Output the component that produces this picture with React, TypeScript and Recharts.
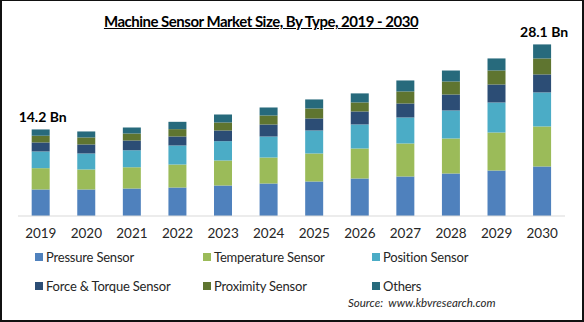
import React from 'react';
import { BarChart, Bar, XAxis, YAxis, LabelList, Legend } from 'recharts';

const years = ['2019', '2020', '2021', '2022', '2023', '2024', '2025', '2026', '2027', '2028', '2029', '2030'];
const pressure = [4.35, 4.35, 4.51, 4.67, 5.0, 5.33, 5.66, 6.15, 6.48, 6.97, 7.46, 8.12];
const temperature = [3.49, 3.28, 3.49, 3.77, 4.1, 4.26, 4.59, 4.92, 5.41, 5.74, 6.23, 6.56];
const positionSensor = [2.74, 2.62, 2.79, 3.12, 3.17, 3.44, 3.77, 3.94, 4.26, 4.59, 4.92, 5.58];
const forceTorque = [1.48, 1.48, 1.59, 1.48, 1.75, 1.97, 1.97, 2.13, 2.3, 2.62, 2.95, 2.95];
const proximity = [1.1, 1.15, 1.15, 1.2, 1.31, 1.48, 1.64, 1.48, 1.97, 2.13, 2.3, 2.62];
const others = [1.03, 0.98, 0.98, 1.2, 1.31, 1.31, 1.48, 1.48, 1.8, 1.8, 1.97, 2.3];
const totalLabels = ['14.2 Bn', '', '', '', '', '', '', '', '', '', '', '28.1 Bn'];

const seriesNames = ['Pressure Sensor', 'Temperature Sensor', 'Position Sensor', 'Force & Torque Sensor', 'Proximity Sensor', 'Others'];
const seriesKeys = ['pressure', 'temperature', 'position', 'force', 'proximity', 'others'];
const seriesColors = ['#4F81BD', '#9BBB59', '#4BACC6', '#2C4D75', '#5F7530', '#276A7C'];

const data = years.map((y, i) => ({
  year: y,
  pressure: pressure[i],
  temperature: temperature[i],
  position: positionSensor[i],
  force: forceTorque[i],
  proximity: proximity[i],
  others: others[i],
  label: totalLabels[i],
}));

const FONT = 'Lato, "Liberation Sans", sans-serif';

const Tick = (props: any) => {
  const { x, y, payload } = props;
  return (
    <text x={x} y={y} dy={14} textAnchor="middle" fontFamily={FONT} fontSize={13.5} fill="#262626">
      {payload.value}
    </text>
  );
};

const TotalLabel = (props: any) => {
  const { x, y, width, value } = props;
  if (!value) return null;
  return (
    <text x={x + width / 2 + 2} y={y - 7} textAnchor="middle" fontFamily={FONT} fontSize={14} fontWeight="bold" fill="#000">
      {value}
    </text>
  );
};

const LegendContent = (props: any) => {
  const payload = [...(props.payload || [])].sort(
    (a: any, b: any) => seriesNames.indexOf(a.value) - seriesNames.indexOf(b.value)
  );
  return (
    <div style={{ display: 'grid', gridTemplateColumns: '168px 169px 170px', rowGap: 0, paddingLeft: 35 }}>
      {payload.map((p: any) => (
        <div key={p.value} style={{ display: 'flex', alignItems: 'center', height: 29, fontFamily: FONT, fontSize: 13, letterSpacing: -0.2, color: '#262626' }}>
          <span style={{ display: 'inline-block', width: 8, height: 8, background: p.color, marginRight: 3 }} />
          <span>{p.value}</span>
        </div>
      ))}
    </div>
  );
};

export default function App() {
  return (
    <div style={{ position: 'absolute', left: 0, top: 0, width: 584, height: 322, background: '#fff', overflow: 'hidden' }}>
      <div
        style={{
          position: 'absolute', left: 0, top: 0, width: 584, height: 322, boxSizing: 'border-box',
          borderTop: '1px solid #111', borderLeft: '2px solid #111', borderRight: '2px solid #111', borderBottom: '2px solid #111',
          pointerEvents: 'none', zIndex: 5,
        }}
      />
      <div
        style={{
          position: 'absolute', left: 0, top: 12, width: 522, textAlign: 'center', fontFamily: FONT,
          fontSize: 15, letterSpacing: -0.5, fontWeight: 'bold', color: '#000', textDecoration: 'underline', whiteSpace: 'nowrap',
        }}
      >
        Machine Sensor Market Size, By Type, 2019 - 2030
      </div>
      <BarChart width={584} height={322} data={data} margin={{ top: 33, right: 19, bottom: 0, left: 18 }} barCategoryGap="30%">
        <XAxis
          dataKey="year"
          height={106}
          axisLine={{ stroke: '#D9D9D9', strokeWidth: 1 }}
          tickLine={false}
          tick={<Tick />}
          interval={0}
        />
        <YAxis hide domain={[0, 30]} />
        {seriesKeys.map((k, i) => (
          <Bar key={k} dataKey={k} name={seriesNames[i]} stackId="a" fill={seriesColors[i]} isAnimationActive={false}>
            {i === seriesKeys.length - 1 ? <LabelList dataKey="label" content={<TotalLabel />} /> : null}
          </Bar>
        ))}
        <Legend
          layout="horizontal"
          verticalAlign="middle"
          align="center"
          wrapperStyle={{ position: 'absolute', left: 0, top: 242, width: 584 }}
          content={<LegendContent />}
        />
      </BarChart>
      <div
        style={{
          position: 'absolute', left: 348, top: 296, fontFamily: FONT, fontSize: 11.5, fontStyle: 'italic', color: '#262626', whiteSpace: 'nowrap',
        }}
      >
        Source:&nbsp; www.kbvresearch.com
      </div>
    </div>
  );
}
